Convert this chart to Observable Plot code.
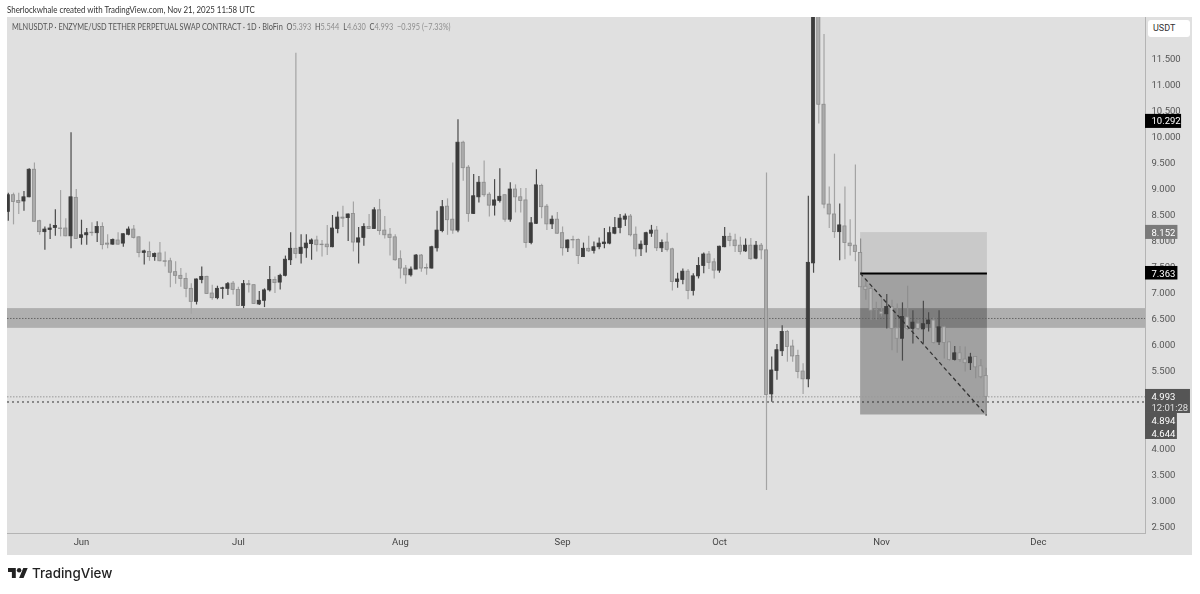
<!DOCTYPE html>
<html>
<head>
<meta charset="utf-8">
<script src="https://cdn.jsdelivr.net/npm/d3@7"></script>
<script src="https://cdn.jsdelivr.net/npm/@observablehq/plot@0.6"></script>
<style>
html,body{margin:0;padding:0;background:#fff;width:1200px;height:594px;overflow:hidden}
body{position:relative;font-family:"Liberation Sans",sans-serif}
#page{position:absolute;left:0;top:0;width:1200px;height:594px;filter:blur(0.3px)}
#credit{position:absolute;left:7px;top:4px;font:8.7px Lato;color:#333;white-space:nowrap;transform:scaleX(0.91);transform-origin:left}
#chart{position:absolute;left:7px;top:17px}
#legend{position:absolute;left:12px;top:22px;font:8.5px Lato;color:#555;white-space:nowrap;transform:scaleX(0.865);transform-origin:left}
#legend b{font-weight:400;color:#8e8e8e}
#unit{position:absolute;left:1148px;top:20px;width:42px;height:17px;border-radius:3px;background:#fff;font:9px/17px Roboto;color:#333;text-indent:5px}
#brand{position:absolute;left:8px;top:565px;display:flex;align-items:center;gap:4px;font:500 13.4px Inter;color:#222}
</style>
</head>
<body>
<div id="page">
<div id="credit">Sherlockwhale created with TradingView.com, Nov 21, 2025 11:58 UTC</div>
<div id="chart"></div>
<div id="legend">MLNUSDT.P · ENZYME/USD TETHER PERPETUAL SWAP CONTRACT · 1D · BloFin &nbsp;O<b>5.393</b> &nbsp;H<b>5.544</b> &nbsp;L<b>4.630</b> &nbsp;C<b>4.993</b> &nbsp;<b>−0.395 (−7.33%)</b></div>
<div id="unit">USDT</div>
<div id="brand"><svg width="20" height="16" viewBox="0 2 36 22"><path fill="#222" d="M14 22H7V11H0V4h14v18zM28 22h-8l7.5-18h8L28 22z"/><circle fill="#222" cx="20" cy="8" r="4"/></svg><span>TradingView</span></div>
</div>
<script>
const firstDay = "2025-05-18";
const opens = [8.55,8.87,8.76,8.75,8.83,9.36,8.37,8.16,8.20,8.24,
8.23,8.23,8.08,8.82,8.05,8.10,8.15,8.14,8.26,7.94,
7.92,8.00,7.94,8.11,8.21,8.06,7.76,7.78,7.68,7.75,
7.60,7.60,7.39,7.32,7.26,7.07,6.82,7.24,7.30,6.98,
6.89,7.07,7.07,7.17,7.05,6.74,7.16,7.14,6.77,6.84,
7.04,7.24,7.19,7.32,7.62,7.84,7.74,7.85,7.93,8.00,
7.92,7.92,7.87,8.22,8.44,8.43,8.51,7.96,8.05,8.26,
8.22,8.58,8.19,8.11,8.06,7.64,7.46,7.33,7.44,7.71,
7.47,7.46,7.85,8.18,8.65,8.40,8.19,9.88,9.40,8.51,
8.83,9.11,8.88,8.67,8.76,8.87,8.40,8.98,8.83,8.77,
7.95,8.32,9.05,8.65,8.31,8.40,8.14,7.85,8.01,8.01,
7.68,7.84,7.80,7.87,7.93,7.94,8.13,8.24,8.40,8.46,
8.11,7.83,7.91,8.13,8.19,7.85,7.96,7.83,7.20,7.24,
7.40,7.03,7.31,7.51,7.73,7.58,7.42,7.87,8.07,8.00,
7.90,7.79,7.90,7.65,7.90,7.81,5.04,5.49,5.87,6.24,
5.96,5.78,5.48,5.33,7.56,14.2,10.61,8.69,8.50,8.16,
8.27,7.94,7.90,7.76,7.11,7.07,6.67,6.62,6.58,6.72,
6.31,6.11,6.52,6.30,6.40,6.29,6.39,6.46,6.04,6.33,
6.04,5.70,5.83,5.71,5.64,5.76,5.58,5.393];
const closes = [8.87,8.74,8.72,8.83,9.36,8.36,8.16,8.21,8.23,8.28,
8.22,8.08,8.83,8.03,8.10,8.14,8.14,8.26,7.91,7.92,
8.01,7.92,8.12,8.21,8.05,7.76,7.79,7.68,7.74,7.60,
7.59,7.38,7.32,7.26,7.07,6.82,7.25,7.30,6.97,6.89,
7.07,7.08,7.16,7.05,6.74,7.16,7.14,6.78,6.84,7.04,
7.24,7.18,7.32,7.63,7.84,7.74,7.86,7.94,8.00,7.91,
7.91,7.87,8.23,8.44,8.42,8.50,7.96,8.04,8.26,8.22,
8.58,8.18,8.10,8.05,7.62,7.46,7.33,7.44,7.71,7.46,
7.46,7.87,8.19,8.64,8.39,8.19,9.88,9.39,8.51,8.85,
9.11,8.87,8.67,8.77,8.84,8.40,8.98,8.83,8.76,7.95,
8.33,9.06,8.64,8.31,8.40,8.13,7.85,8.00,8.00,7.70,
7.84,7.79,7.87,7.94,7.96,8.14,8.24,8.42,8.46,8.10,
7.83,7.92,8.14,8.19,7.85,7.95,7.82,7.20,7.25,7.40,
7.03,7.31,7.51,7.73,7.57,7.42,7.88,8.07,7.99,7.89,
7.78,7.90,7.64,7.90,7.81,5.03,5.50,5.89,6.24,5.95,
5.77,5.47,5.33,7.57,14.2,10.61,8.69,8.50,8.16,8.29,
7.95,7.89,7.78,7.10,7.05,6.65,6.66,6.58,6.72,6.30,
6.11,6.53,6.30,6.42,6.30,6.39,6.46,6.03,6.33,6.03,
5.70,5.83,5.70,5.64,5.75,5.56,5.37,4.993];
const highs = [8.91,8.91,8.91,8.94,9.38,9.49,8.39,8.26,8.31,8.59,
8.96,8.42,10.07,8.98,8.39,8.23,8.34,8.36,8.34,8.11,
8.03,8.15,8.13,8.26,8.29,8.07,7.81,7.97,7.76,7.96,
7.78,7.66,7.59,7.46,7.37,7.17,7.26,7.49,7.31,7.14,
7.12,7.10,7.19,7.21,7.10,7.23,7.23,7.15,7.02,7.07,
7.50,7.30,7.35,7.70,8.15,11.60,8.11,8.11,8.03,8.08,
8.00,8.29,8.48,8.55,8.66,8.51,8.74,8.25,8.32,8.50,
8.63,8.79,8.46,8.23,8.11,7.80,7.52,7.49,7.73,7.73,
7.55,7.89,8.56,8.77,8.80,9.49,10.32,9.91,9.44,9.27,
9.23,9.53,8.92,9.17,9.38,8.88,9.11,9.07,9.00,9.00,
8.44,9.36,9.08,8.69,8.47,8.54,8.26,8.01,8.08,8.03,
7.95,8.08,7.97,8.05,8.23,8.26,8.44,8.50,8.51,8.50,
8.26,7.99,8.16,8.29,8.27,8.01,8.14,7.85,7.37,7.45,
7.44,7.36,7.67,7.76,7.79,7.65,7.89,8.25,8.14,8.12,
8.06,8.03,8.04,7.98,7.94,9.30,5.76,6.00,6.36,6.27,
6.08,5.89,5.63,8.85,15.2,15.0,11.96,9.03,9.66,8.70,
9.03,8.40,9.45,8.03,7.26,7.10,6.81,6.88,6.96,6.85,
6.78,6.80,7.12,6.65,6.46,6.83,6.61,6.51,6.65,6.35,
6.05,5.96,5.96,5.95,5.83,5.77,5.71,5.544];
const lows = [8.37,8.30,8.50,8.56,8.82,8.35,8.10,7.81,8.02,8.08,
8.07,8.07,7.84,8.02,7.91,7.91,8.08,7.96,7.82,7.84,
7.91,7.91,7.87,8.09,8.03,7.67,7.53,7.60,7.60,7.59,
7.49,7.09,7.16,7.10,6.90,6.58,6.76,7.17,6.96,6.85,
6.86,6.87,6.94,6.95,6.73,6.69,6.99,6.77,6.75,6.71,
7.01,6.98,7.05,7.30,7.52,7.65,7.55,7.66,7.62,7.78,
7.68,7.71,7.86,8.13,8.25,7.98,7.78,7.55,7.89,8.21,
8.21,8.10,8.03,7.70,7.60,7.26,7.16,7.30,7.44,7.39,
7.33,7.45,7.78,8.15,8.10,8.12,8.15,9.14,8.35,8.50,
8.72,8.83,8.45,8.47,8.72,8.35,8.35,8.53,8.53,7.85,
7.92,8.31,8.42,8.19,8.21,8.12,7.70,7.77,7.84,7.54,
7.68,7.77,7.74,7.82,7.84,7.92,8.11,8.13,8.27,8.07,
7.68,7.69,7.76,8.06,7.79,7.77,7.78,7.03,7.08,7.15,
6.86,6.93,7.26,7.36,7.44,7.26,7.37,7.86,7.88,7.77,
7.72,7.77,7.62,7.63,7.63,3.19,4.89,5.31,5.77,5.66,
5.66,5.34,5.04,5.17,7.37,10.24,8.61,8.23,8.04,7.61,
7.63,7.70,7.59,7.10,6.85,6.46,6.46,6.53,6.30,5.88,
5.83,5.68,6.27,6.01,6.27,6.01,6.24,6.01,5.98,5.72,
5.68,5.68,5.66,5.47,5.50,5.34,5.34,4.630];

const priceTicks = [2.5,3,3.5,4,5.5,6,6.5,7,7.5,8,8.5,9,9.5,10,10.5,11,11.5];
const monthTicks = ["2025-06-01","2025-07-01","2025-08-01","2025-09-01","2025-10-01","2025-11-01","2025-12-01"];
const bandLow = 6.31, bandHigh = 6.69, bandMid = 6.5;
const entry = 7.363, stopLevel = 8.152, targetLevel = 4.644, lastClose = 4.993, markLevel = 4.894;
const boxStart = "2025-10-28T00:00Z", boxEnd = "2025-11-21T06:00Z";
const labelsTall = [
  {t:"10.292", y1:10.425, y2:10.155, y:10.292, w:6.9, f:"#000"},
  {t:"8.152",  y1:8.29,  y2:8.02,  y:8.152,  w:6.2, f:"#7a7a7a"},
  {t:"7.363",  y1:7.50,  y2:7.24,  y:7.363,  w:6.2, f:"#000"},
  {t:"4.993",  y1:5.135, y2:4.673, y:4.993,  w:8.6, f:"#555"},
  {t:"12:01:28", y1:null, y2:null, y:4.788,  w:8.6, f:null},
  {t:"4.894",  y1:4.673, y2:4.442, y:4.538,  w:6.1, f:"#555"},
  {t:"4.644",  y1:4.442, y2:4.173, y:4.288,  w:6.1, f:"#555"}
];

const days = d3.utcDay.range(new Date(firstDay), d3.utcDay.offset(new Date(firstDay), opens.length));
const candles = days.map((d,i)=>({d, o:opens[i], h:highs[i], l:lows[i], c:closes[i], up:closes[i]>opens[i]}));
const xStart = new Date("2025-05-17T20:24Z"), xEnd = new Date("2025-12-21T11:30Z");
const shift = (dt,n)=>new Date(+dt + n*864e5);
const boxFrom = new Date(boxStart), boxTo = new Date(boxEnd);

const font = "Roboto";
const plot = Plot.plot({
  width:1185, height:538,
  marginLeft:0, marginRight:47, marginTop:0, marginBottom:22,
  style:{background:"#e0e0e0", fontFamily:font, fontSize:"9.5px", color:"#555"},
  x:{type:"utc", domain:[xStart,xEnd]},
  y:{type:"linear", domain:[2.365,12.288]},
  marks:[
    Plot.frame({anchor:"right", stroke:"#b4b4b4"}),
    Plot.frame({anchor:"bottom", stroke:"#b4b4b4"}),
    Plot.axisX(monthTicks.map(d=>new Date(d)), {tickSize:0, tickPadding:5, tickFormat:"%b", label:null, fill:"#444"}),
    Plot.axisY(priceTicks, {anchor:"right", tickSize:0, tickPadding:6, tickFormat:d3.format(".3f"), label:null, fill:"#555"}),
    Plot.rect([0],{x1:()=>boxFrom, x2:()=>boxTo, y1:()=>entry, y2:()=>stopLevel, fill:"#000", fillOpacity:0.1}),
    Plot.rect([0],{x1:()=>boxFrom, x2:()=>boxTo, y1:()=>targetLevel, y2:()=>entry, fill:"#000", fillOpacity:0.28}),
    Plot.rect([0],{y1:()=>bandLow, y2:()=>bandHigh, fill:"#000", fillOpacity:0.22}),
    Plot.ruleY([bandMid],{stroke:"#666", strokeWidth:1, strokeDasharray:"1.5,1.5"}),
    Plot.ruleY([lastClose],{stroke:"#999", strokeWidth:1, strokeDasharray:"1.5,1.5"}),
    Plot.ruleY([markLevel],{stroke:"#333", strokeWidth:1, strokeDasharray:"2,3"}),
    Plot.ruleX(candles,{x:"d", y1:"l", y2:"h", stroke:d=>d.up?"#4a4a4a":(d.d>=boxFrom?"#8e8e8e":"#a4a4a4"), strokeWidth:1.2, clip:true}),
    Plot.rect(candles,{x1:d=>shift(d.d,-0.3), x2:d=>shift(d.d,0.3), y1:"o", y2:"c",
      fill:d=>d.up?"#3c3c3c":(d.d>=boxFrom?"#b8b8b8":"#ababab"),
      stroke:d=>d.up?"#3c3c3c":"#8c8c8c", strokeWidth:0.8, clip:true}),
    Plot.ruleY([entry],{x1:()=>boxFrom, x2:()=>boxTo, y:()=>entry, stroke:"#000", strokeWidth:2}),
    Plot.line([[boxFrom,entry],[shift(boxTo,-0.25),targetLevel]],{stroke:"#333", strokeWidth:1.3, strokeDasharray:"3,4"}),
    Plot.rect(labelsTall.filter(d=>d.f),{x1:()=>xEnd, x2:d=>shift(xEnd,d.w), y1:"y1", y2:"y2", fill:"f"}),
    Plot.text(labelsTall,{x:()=>xEnd, y:"y", text:"t", textAnchor:"start", dx:6, fill:"#fff", fontSize:9.5, fontWeight:d=>d.t==="12:01:28"?400:500, fillOpacity:d=>d.t==="12:01:28"?0.8:1})
  ]
});
document.getElementById("chart").append(plot);
</script>
</body>
</html>
